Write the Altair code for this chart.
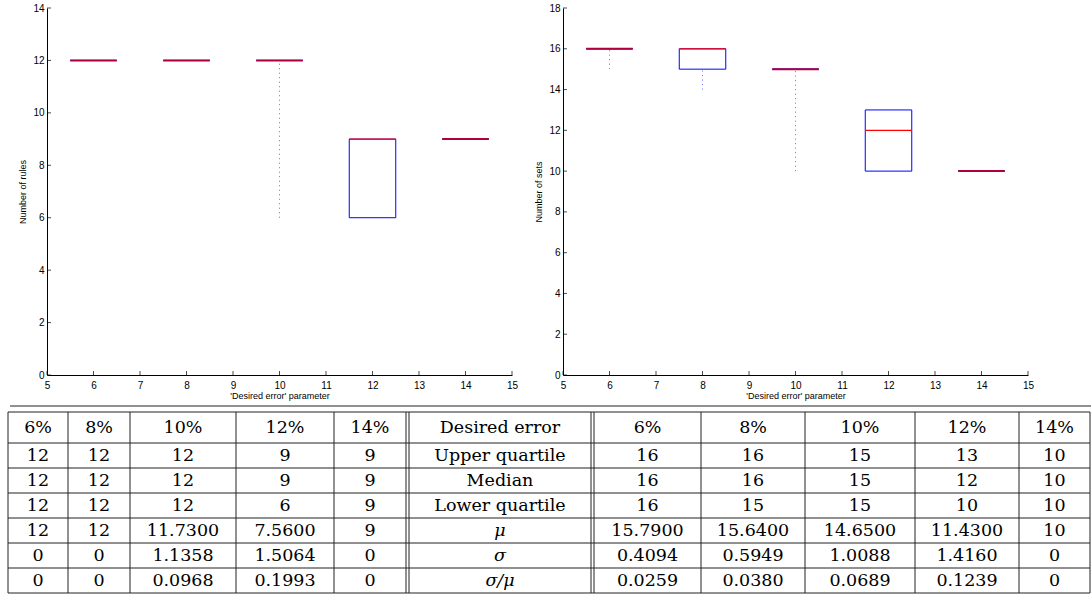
import altair as alt
import pandas as pd

# ---------------- data ----------------
errors = [6, 8, 10, 12, 14]
error_labels = ["6%", "8%", "10%", "12%", "14%"]

rules_upper = [12, 12, 12, 9, 9]
rules_median = [12, 12, 12, 9, 9]
rules_lower = [12, 12, 12, 6, 9]
rules_min = [12, 12, 6, 6, 9]
rules_max = [12, 12, 12, 9, 9]
rules_mean = ["12", "12", "11.7300", "7.5600", "9"]
rules_std = ["0", "0", "1.1358", "1.5064", "0"]
rules_cv = ["0", "0", "0.0968", "0.1993", "0"]

sets_upper = [16, 16, 15, 13, 10]
sets_median = [16, 16, 15, 12, 10]
sets_lower = [16, 15, 15, 10, 10]
sets_min = [15, 14, 10, 10, 10]
sets_max = [16, 16, 15, 13, 10]
sets_mean = ["15.7900", "15.6400", "14.6500", "11.4300", "10"]
sets_std = ["0.4094", "0.5949", "1.0088", "1.4160", "0"]
sets_cv = ["0.0259", "0.0380", "0.0689", "0.1239", "0"]

row_names = ["Desired error", "Upper quartile", "Median", "Lower quartile", "μ", "σ", "σ/μ"]
greek_rows = [4, 5, 6]

x_ticks = [5, 6, 7, 8, 9, 10, 11, 12, 13, 14, 15]
rules_y_ticks = [0, 2, 4, 6, 8, 10, 12, 14]
sets_y_ticks = [0, 2, 4, 6, 8, 10, 12, 14, 16, 18]

# ---------------- layout ----------------
W, H = 1091, 595
PA_X = (47, 512)
PB_X = (563, 1028)
P_Y = (375, 8)
SANS = "Liberation Sans"
SERIF = "DejaVu Serif"

LEFT_EDGES = [8, 68, 130, 236, 334, 406]
LABEL_EDGES = [409, 591]
RIGHT_EDGES = [594, 701, 805, 915, 1019, 1090]
ROW_EDGES = [412, 443, 468, 493, 518, 543, 568, 593]
TOP_RULE = (10, 1091, 406)


def panel(upper, median, lower, lo, hi, ydom, yticks, ytitle, xr):
    df = pd.DataFrame({"err": errors, "q3": upper, "med": median,
                       "q1": lower, "lo": lo, "hi": hi})
    xs = alt.Scale(domain=[5, 15], range=list(xr), nice=False, zero=False)
    ys = alt.Scale(domain=ydom, range=list(P_Y), nice=False, zero=False)
    xaxis = alt.Axis(orient="bottom", offset=P_Y[0] - H, values=x_ticks,
                     title="'Desired error' parameter", tickSize=0, ticks=False,
                     labelPadding=5, titlePadding=1, grid=False,
                     domainColor="black", domainWidth=1, labelColor="black",
                     titleColor="black", labelFont=SANS, titleFont=SANS,
                     labelFontSize=10, titleFontSize=9, titleFontWeight="normal",
                     labelFlush=False, labelOverlap=False, format="d")
    yaxis = alt.Axis(orient="left", offset=-xr[0], values=yticks, title=ytitle,
                     tickSize=0, ticks=False, labelPadding=3, titlePadding=5,
                     grid=False, domainColor="black", domainWidth=1,
                     labelColor="black", titleColor="black", labelFont=SANS,
                     titleFont=SANS, labelFontSize=10, titleFontSize=9,
                     titleFontWeight="normal", labelFlush=False,
                     labelOverlap=False, format="d")

    base = alt.Chart(df).transform_calculate(
        left="datum.err - 0.5", right="datum.err + 0.5")

    whisk_lo = base.transform_filter("datum.lo < datum.q1").mark_rule(
        color="#6a6aff", strokeDash=[1, 3.5], strokeWidth=1).encode(
        x=alt.X("err:Q", scale=xs, axis=xaxis),
        y=alt.Y("lo:Q", scale=ys, axis=yaxis), y2="q1:Q")
    whisk_hi = base.transform_filter("datum.hi > datum.q3").mark_rule(
        color="#6a6aff", strokeDash=[1, 3.5], strokeWidth=1).encode(
        x=alt.X("err:Q", scale=xs, axis=xaxis),
        y=alt.Y("q3:Q", scale=ys, axis=yaxis), y2="hi:Q")
    box = base.mark_rect(fillOpacity=0, stroke="#0000ff", strokeWidth=1).encode(
        x=alt.X("left:Q", scale=xs, axis=xaxis), x2="right:Q",
        y=alt.Y("q1:Q", scale=ys, axis=yaxis), y2="q3:Q")
    med = base.mark_rule().encode(
        x=alt.X("left:Q", scale=xs, axis=xaxis), x2="right:Q",
        y=alt.Y("med:Q", scale=ys, axis=yaxis),
        color=alt.condition("datum.q1 == datum.q3", alt.value("#b0003c"),
                            alt.value("#ff0000")),
        strokeWidth=alt.condition("datum.q1 == datum.q3", alt.value(2),
                                  alt.value(1.2)))
    ytk = alt.Chart(pd.DataFrame({"v": yticks})).mark_tick(
        orient="horizontal", size=4, thickness=1, color="black").encode(
        y=alt.Y("v:Q", scale=ys, axis=yaxis), x=alt.value(xr[0] + 2))
    xtk = alt.Chart(pd.DataFrame({"v": x_ticks})).mark_tick(
        orient="vertical", size=4, thickness=1, color="black").encode(
        x=alt.X("v:Q", scale=xs, axis=xaxis), y=alt.value(P_Y[0] - 2))
    return alt.layer(box, whisk_lo, whisk_hi, med, ytk, xtk)


panel_a = panel(rules_upper, rules_median, rules_lower, rules_min, rules_max,
                [0, 14], rules_y_ticks, "Number of rules", PA_X)
panel_b = panel(sets_upper, sets_median, sets_lower, sets_min, sets_max,
                [0, 18], sets_y_ticks, "Number of sets", PB_X)

# ---------------- table ----------------
left_rows = [error_labels,
             [str(v) for v in rules_upper],
             [str(v) for v in rules_median],
             [str(v) for v in rules_lower],
             rules_mean, rules_std, rules_cv]
right_rows = [error_labels,
              [str(v) for v in sets_upper],
              [str(v) for v in sets_median],
              [str(v) for v in sets_lower],
              sets_mean, sets_std, sets_cv]

cells = []
for r in range(7):
    yc = (ROW_EDGES[r] + ROW_EDGES[r + 1]) / 2
    for c in range(5):
        cells.append({"x": (LEFT_EDGES[c] + LEFT_EDGES[c + 1]) / 2, "y": yc,
                      "t": left_rows[r][c], "it": False})
        cells.append({"x": (RIGHT_EDGES[c] + RIGHT_EDGES[c + 1]) / 2, "y": yc,
                      "t": right_rows[r][c], "it": False})
    cells.append({"x": (LABEL_EDGES[0] + LABEL_EDGES[1]) / 2, "y": yc,
                  "t": row_names[r], "it": r in greek_rows})
cells_df = pd.DataFrame(cells)

x_lines = LEFT_EDGES + LABEL_EDGES + RIGHT_EDGES
vlines = pd.DataFrame({"x": x_lines, "y1": ROW_EDGES[0], "y2": ROW_EDGES[-1]})
hlines = pd.DataFrame({"x1": [LEFT_EDGES[0]] * len(ROW_EDGES) + [TOP_RULE[0]],
                       "x2": [RIGHT_EDGES[-1]] * len(ROW_EDGES) + [TOP_RULE[1]],
                       "y": ROW_EDGES + [TOP_RULE[2]]})

tx = alt.Scale(domain=[0, W], range=[0, W], nice=False, zero=False)
ty = alt.Scale(domain=[0, H], range=[0, H], nice=False, zero=False)

t_v = alt.Chart(vlines).mark_rule(color="#222222", strokeWidth=1).encode(
    x=alt.X("x:Q", scale=tx, axis=None), y=alt.Y("y1:Q", scale=ty, axis=None),
    y2="y2:Q")
t_h = alt.Chart(hlines).mark_rule(color="#222222", strokeWidth=1).encode(
    x=alt.X("x1:Q", scale=tx, axis=None), x2="x2:Q",
    y=alt.Y("y:Q", scale=ty, axis=None))
t_txt = alt.Chart(cells_df).transform_filter("!datum.it").mark_text(
    font=SERIF, fontSize=17.5, color="black", baseline="middle",
    align="center").encode(
    x=alt.X("x:Q", scale=tx, axis=None), y=alt.Y("y:Q", scale=ty, axis=None),
    text="t:N")
t_it = alt.Chart(cells_df).transform_filter("datum.it").mark_text(
    font=SERIF, fontSize=17.5, fontStyle="italic", color="black",
    baseline="middle", align="center").encode(
    x=alt.X("x:Q", scale=tx, axis=None), y=alt.Y("y:Q", scale=ty, axis=None),
    text="t:N")
table = alt.layer(t_v, t_h, t_txt, t_it)

chart = alt.layer(panel_a, panel_b, table).resolve_scale(
    x="independent", y="independent").properties(
    width=W, height=H, autosize=alt.AutoSizeParams(type="none"), padding=0,
    background="white").configure_view(stroke=None)

chart.save("out.html", embed_options={"renderer": "svg", "actions": False})
